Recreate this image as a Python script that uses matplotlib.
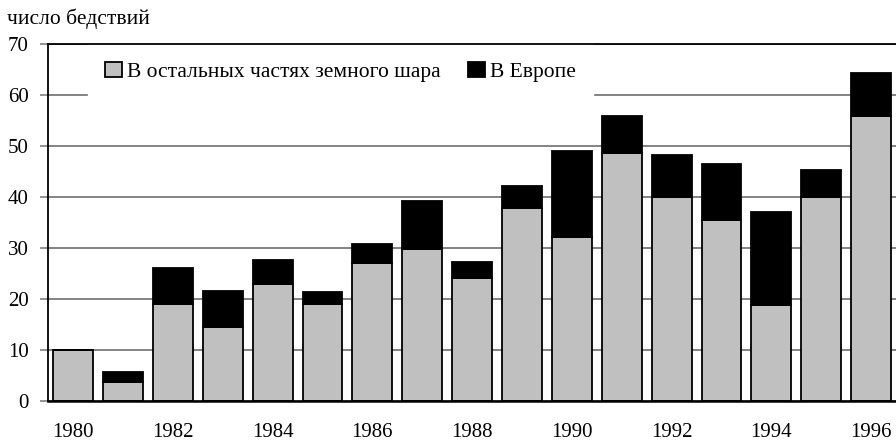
import matplotlib.pyplot as plt
from matplotlib.patches import Patch

plt.rcParams['font.family'] = ['Liberation Serif', 'DejaVu Serif']

# данные
years = list(range(1980, 1997))
rest_of_world = [10, 3.6, 19, 14.5, 22.9, 19, 27, 29.7, 24, 37.7, 32, 48.6, 40, 35.5, 18.7, 40, 55.9]
europe = [0, 2.1, 7, 7.1, 4.6, 2.4, 3.8, 9.4, 3.1, 4.3, 16.9, 7.3, 8.2, 10.9, 18.2, 5.3, 8.4]
tick_years = years[::2]
y_ticks = [0, 10, 20, 30, 40, 50, 60, 70]

fig = plt.figure(figsize=(8.96, 4.43), dpi=100)
ax = fig.add_axes([0.0539, 0.0955, 0.9461, 0.8059])

ax.bar(years, rest_of_world, width=0.8, color='#C0C0C0', edgecolor='black', linewidth=1.3, zorder=3)
ax.bar(years, europe, width=0.8, bottom=rest_of_world, color='black', edgecolor='black', linewidth=1.3, zorder=3)

ax.set_xlim(years[0] - 0.5, years[-1] + 0.5)
ax.set_ylim(0, 70)
ax.set_yticks(y_ticks)
ax.set_xticks(tick_years)
ax.set_xticklabels([str(y) for y in tick_years])
ax.tick_params(axis='x', length=0, pad=16, labelsize=15)
ax.tick_params(axis='y', length=6, width=1.2, color='#808080', pad=8, labelsize=15)

ax.grid(axis='y', color='#7a7a7a', linewidth=1.3, zorder=0)
ax.spines['right'].set_visible(False)
ax.spines['top'].set_color('black')
ax.spines['top'].set_linewidth(1.3)
ax.spines['top'].set_zorder(6)
ax.spines['left'].set_linewidth(1.3)
ax.spines['bottom'].set_linewidth(1.8)
ax.spines['bottom'].set_zorder(4)

handles = [Patch(facecolor='#C0C0C0', edgecolor='black', linewidth=1.3, label='В остальных частях земного шара'),
           Patch(facecolor='black', edgecolor='black', linewidth=1.3, label='В Европе')]
leg = ax.legend(handles=handles, ncol=2, loc='upper left', bbox_to_anchor=(0.047, 0.998),
                fontsize=15.5, frameon=True, facecolor='white', edgecolor='white', framealpha=1,
                fancybox=False, handlelength=0.75, handleheight=0.75, handletextpad=0.25,
                columnspacing=1.3, borderpad=0.8, borderaxespad=0)
leg.set_zorder(5)

fig.text(0.008, 0.957, 'число бедствий', fontsize=15.5, va='center', ha='left')

plt.savefig('out.png', dpi=100)
